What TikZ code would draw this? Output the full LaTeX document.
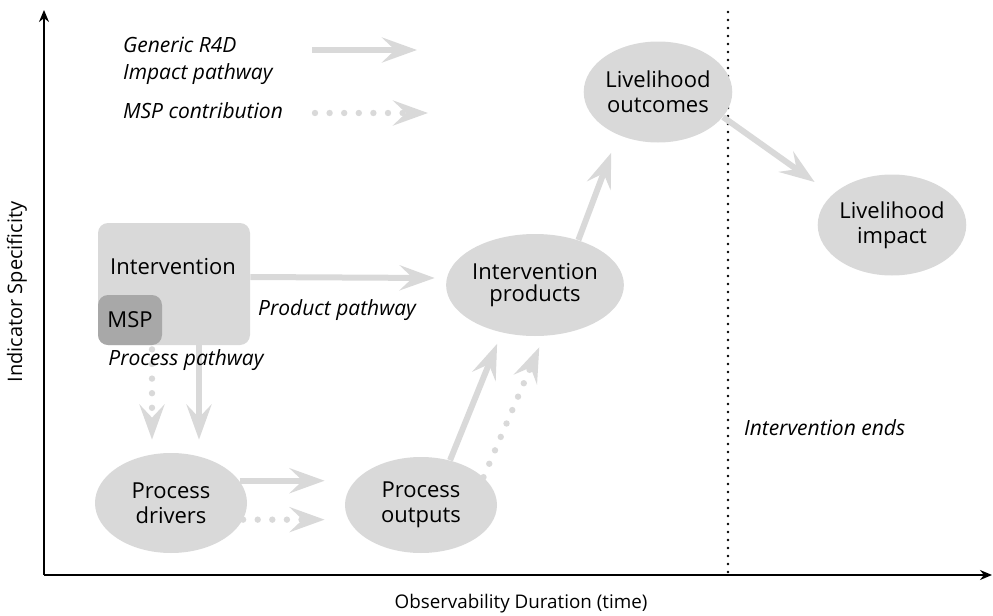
\documentclass[tikz,border=0pt]{standalone}
\usepackage{fontspec}
\setmainfont{Open Sans}
\usetikzlibrary{arrows.meta,shapes.geometric,calc}
\definecolor{lg}{RGB}{217,217,217}
\definecolor{mg}{RGB}{168,168,168}
\begin{document}
\begin{tikzpicture}[x=0.5pt,y=-0.5pt,
  every node/.style={font=\fontsize{11}{12.5}\selectfont, text=black},
  ell/.style={ellipse, fill=lg, inner sep=0pt, align=center},
  gtip/.style={-{Stealth[length=17.5pt,width=12.5pt,inset=6.5pt]}},
  solidarrow/.style={draw=lg, line width=3pt, gtip},
  dotarrow/.style={draw=lg, line width=3.2pt, line cap=round, dash pattern=on 0pt off 7.3pt, gtip},
  lbl/.style={font=\fontsize{10.5}{14}\selectfont\itshape},
  axisline/.style={line width=0.75pt, -{Stealth[length=6pt,width=5pt]}},
]
\useasboundingbox (0,0) rectangle (993,616);

% axes
\coordinate (O) at (44,575);
\coordinate (Ytop) at (44,10);
\coordinate (Xend) at (992,575);
\draw[axisline] (O) -- (Ytop);
\draw[axisline] (O) -- (Xend);
\node[rotate=90, font=\fontsize{10}{12}\selectfont] (ylab) at (17,292) {Indicator Specificity};
\node[font=\fontsize{9.4}{12}\selectfont] (xlab) at (521,604) {Observability Duration (time)};

% intervention end
\coordinate (ve1) at (728,12);
\coordinate (ve2) at (728,578);
\draw[line width=1.4pt, line cap=round, dash pattern=on 0pt off 4pt] (ve1) -- (ve2);
\node[lbl, anchor=west] (iend) at (737,428) {Intervention ends};

% legend
\node[lbl, anchor=west] (leg1) at (116,45) {Generic R4D};
\node[lbl, anchor=west] (leg2) at (116,74) {Impact pathway};
\node[lbl, anchor=west] (leg3) at (116,111) {MSP contribution};
\coordinate (l1a) at (312,50);
\coordinate (l1b) at (417,50);
\coordinate (l2a) at (315,113);
\coordinate (l2b) at (428,113);
\draw[solidarrow] (l1a) -- (l1b);
\draw[dotarrow] (l2a) -- (l2b);

% intervention box
\node[fill=lg, rounded corners=5pt, minimum width=76pt, minimum height=61pt, inner sep=0pt] (box) at (174,284) {};
\node (boxlbl) at (173,267) {Intervention};
\node[fill=mg, rounded corners=5pt, minimum width=32pt, minimum height=25pt, inner sep=0pt] (msp) at (130,320) {MSP};

% ellipses
\node[ell, minimum width=76pt, minimum height=50pt] (drv) at (171,503) {Process\\drivers};
\node[ell, minimum width=76pt, minimum height=48pt] (out) at (421,505) {Process\\outputs};
\node[ell, minimum width=72.5pt, minimum height=51pt, font=\fontsize{11}{11}\selectfont] (prod) at (535,285) {Intervention\\products};
\node[ell, minimum width=72pt, minimum height=50.5pt] (outc) at (658,92) {Livelihood\\outcomes};
\node[ell, minimum width=71pt, minimum height=50.5pt] (imp) at (892,225) {Livelihood\\impact};

% connectors
\draw[solidarrow] ([yshift=3.5pt]box.east) -- ([yshift=3.5pt,xshift=-5.5pt]prod.west);
\coordinate (vs) at ([xshift=12.5pt]box.south);
\coordinate (vd) at ([xshift=-11pt,yshift=-2pt]box.south);
\draw[solidarrow, shorten >=6.5pt] (vs) -- (vs |- drv.north);
\draw[dotarrow, shorten >=6.5pt] (vd) -- (vd |- drv.north);
\draw[solidarrow, shorten >=10pt] (drv.18) -- (drv.18 -| out.west);
\draw[dotarrow, shorten >=10pt] (drv.-13) -- (drv.-13 -| out.west);
\draw[solidarrow, shorten >=6pt] (out.57) -- (prod.235);
\draw[dotarrow, shorten >=6pt] (out.24) -- (prod.280);
\draw[solidarrow, shorten >=9.5pt] (prod.46) -- (outc.227);
\draw[solidarrow, shorten >=10.8pt] (outc.-21) -- (imp.153);

% pathway labels (on top of connectors)
\node[lbl] (prodpath) at (337,310) {Product pathway};
\node[lbl] (procpath) at (186,360) {Process pathway};
\end{tikzpicture}
\end{document}
